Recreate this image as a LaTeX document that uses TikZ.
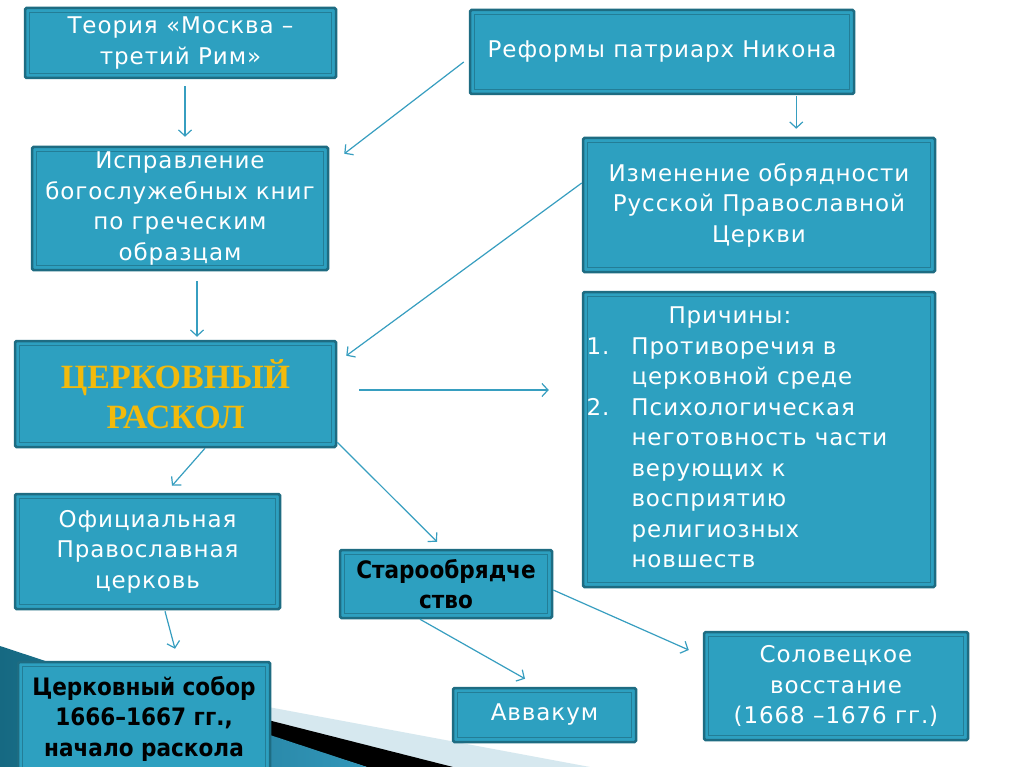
\documentclass[tikz,border=0pt]{standalone}
\usepackage{fontspec}
\setmainfont{DejaVu Sans}[LetterSpace=4]
\newfontfamily\titlefont{Liberation Serif}
\newfontfamily\heavyfont{DejaVu Sans Condensed}
\usetikzlibrary{arrows.meta,calc}
\definecolor{boxfill}{RGB}{45,160,192}
\definecolor{boxedge}{RGB}{30,108,130}
\definecolor{boxinner}{RGB}{35,125,150}
\definecolor{arrowc}{RGB}{55,158,192}
\definecolor{gold}{RGB}{242,186,12}
\definecolor{bandlight}{RGB}{214,232,239}
\definecolor{banddark}{RGB}{22,105,130}
\definecolor{bandmid}{RGB}{50,150,185}
\tikzset{
  box/.style 2 args={draw=boxedge, line width=2.5pt, fill=boxfill, rounded corners=1.5pt,
    minimum width=#1pt, minimum height=#2pt, inner sep=0pt, text=white, align=center,
    font=\fontsize{23}{30.5}\selectfont,
    path picture={\draw[boxinner, line width=1.2pt, sharp corners]
      ($(path picture bounding box.south west)+(4.5,-4.5)$) rectangle
      ($(path picture bounding box.north east)+(-4.5,4.5)$);}},
  darktext/.style={text=black, font=\fontsize{24}{30.5}\selectfont\heavyfont\bfseries},
  arr/.style={draw=arrowc, line width=1.2pt, -{Straight Barb[length=6pt,width=13pt]}}
}
\begin{document}
\begin{tikzpicture}[x=1pt,y=-1pt]
\useasboundingbox (0,0) rectangle (1024,767);
\clip (0,0) rectangle (1024,767);
\fill[white] (0,0) rectangle (1024,767);
% background decoration
\fill[bandlight] (0,657) -- (590,767) -- (0,767) -- cycle;
\fill[black] (0,652) -- (453,767) -- (367,767) -- cycle;
\shade[left color=banddark, right color=bandmid] (0,646) -- (367,767) -- (0,767) -- cycle;

% boxes
\node[box={311}{70}] (A) at (180.5,43) {Теория «Москва –\\третий Рим»};
\node[box={384}{84}] (B) at (662,52) {Реформы патриарх Никона};
\node[box={296}{123}] (C) at (180,208.5) {Исправление\\богослужебных книг\\по греческим\\образцам};
\node[box={352}{134}] (D) at (759,205) {Изменение обрядности\\Русской Православной\\Церкви};
\node[box={321}{106}, text=gold, font=\fontsize{34}{40}\selectfont\titlefont\bfseries] (E) at (175.5,394) {ЦЕРКОВНЫЙ\\РАСКОЛ};
\node[box={352}{295}, align=left] (F) at (759,439.5) {\begin{tabular}{@{}p{45pt}@{}p{300pt}@{}}
\multicolumn{2}{@{}l@{}}{\hspace{82pt}Причины:}\\
1. & Противоречия в\\
   & церковной среде\\
2. & Психологическая\\
   & неготовность части\\
   & верующих к\\
   & восприятию\\
   & религиозных\\
   & новшеств
\end{tabular}};
\node[box={265}{115}] (G) at (147.5,551.5) {Официальная\\Православная\\церковь};
\node[box={212}{68}, darktext] (H) at (446,584) {Старообрядче\\ство};
\node[box={264}{108}] (I) at (836,686) {Соловецкое\\восстание\\(1668 –1676 гг.)};
\node[box={252}{113}, darktext] (J) at (144,718.5) {Церковный собор\\1666–1667 гг.,\\начало раскола};
\node[box={183}{54}] (K) at (544.5,715) {Аввакум};

% connectors
\draw[arr] ($(A.south)+(4.5,7)$) -- ($(C.north)+(5,-9)$);
\draw[arr] ($(B.west)+(-5,10)$) -- ($(C.north east)+(15,8)$);
\draw[arr] ($(B.south east)+(-59,1)$) -- ($(D.north east)+(-140,-8)$);
\draw[arr] ($(C.south)+(17,10)$) -- ($(E.north)+(21.5,-3)$);
\draw[arr] ($(D.west)+(0,-22)$) -- ($(E.north east)+(9,16)$);
\draw[arr] ($(E.east)+(22,-4)$) -- ($(F.west)+(-33,-49.5)$);
\draw[arr] ($(E.south)+(29.5,0)$) -- ($(G.north)+(24.5,-7)$);
\draw[arr] ($(E.south east)+(0,-6)$) -- ($(H.north)+(-9,-7)$);
\draw[arr] ($(G.south)+(17.5,1)$) -- ($(J.north)+(31,-12)$);
\draw[arr] ($(H.south)+(-26,0)$) -- ($(K.north)+(-19.5,-8)$);
\draw[arr] ($(H.east)+(0,6)$) -- ($(I.west)+(-14,-36)$);
\end{tikzpicture}
\end{document}
